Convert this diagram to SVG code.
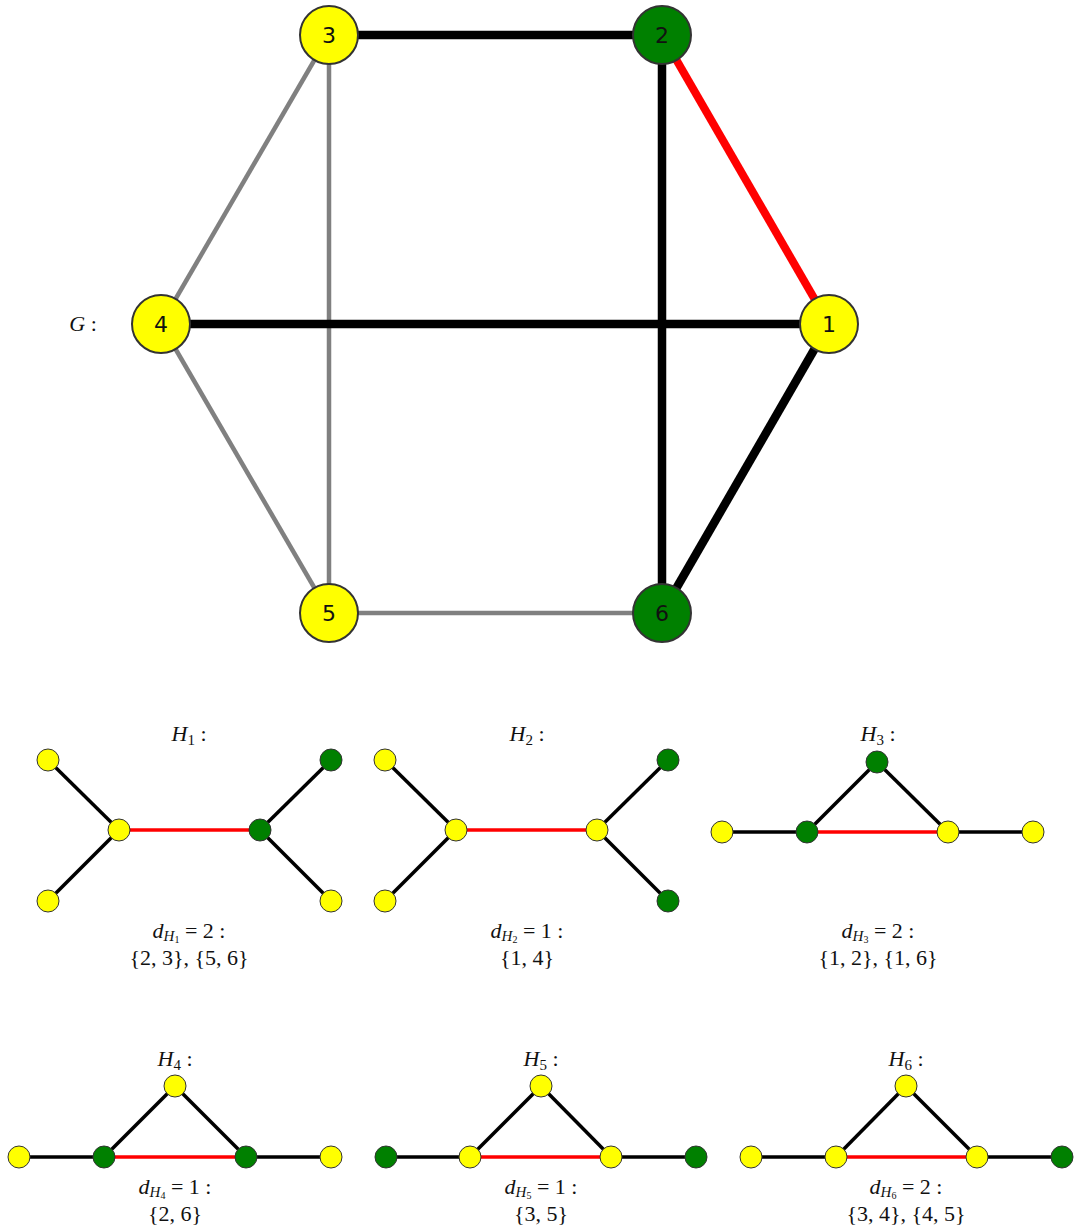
<svg xmlns="http://www.w3.org/2000/svg" width="1077" height="1229" viewBox="0 0 1077 1229">
<style>
.bk{stroke:#000;stroke-width:8.5}
.gr{stroke:#808080;stroke-width:4.5}
.rd{stroke:#f00;stroke-width:8}
.sb{stroke:#000;stroke-width:3.5}
.sr{stroke:#f00;stroke-width:3.5}
.Y{fill:#ff0}
.Gn{fill:#008000}
.big{stroke:#333;stroke-width:2}
.sm{stroke:#333;stroke-width:1}
.num{font-family:"DejaVu Sans",sans-serif;font-size:22px;text-anchor:middle;dominant-baseline:central;fill:#111}
.m{font-family:"Liberation Serif","DejaVu Serif",serif;font-size:22px;text-anchor:middle;fill:#111}
.i{font-style:italic}
</style>
<rect width="1077" height="1229" fill="#fff"/>
<g id="connectors">
<line class="gr" x1="329" y1="35" x2="161" y2="324"/>
<line class="gr" x1="329" y1="35" x2="329" y2="613"/>
<line class="gr" x1="161" y1="324" x2="329" y2="613"/>
<line class="gr" x1="329" y1="613" x2="662" y2="613"/>
<line class="bk" x1="329" y1="35" x2="662" y2="35"/>
<line class="bk" x1="662" y1="35" x2="662" y2="613"/>
<line class="bk" x1="161" y1="324" x2="829" y2="324"/>
<line class="bk" x1="829" y1="324" x2="662" y2="613"/>
<line class="rd" x1="662" y1="35" x2="829" y2="324"/>
<!-- H1 -->
<line class="sb" x1="48" y1="760" x2="119" y2="830"/>
<line class="sb" x1="48" y1="901" x2="119" y2="830"/>
<line class="sb" x1="331" y1="760" x2="260" y2="830"/>
<line class="sb" x1="331" y1="901" x2="260" y2="830"/>
<line class="sr" x1="119" y1="830" x2="260" y2="830"/>
<!-- H2 -->
<line class="sb" x1="385" y1="760" x2="456" y2="830"/>
<line class="sb" x1="385" y1="901" x2="456" y2="830"/>
<line class="sb" x1="668" y1="760" x2="597" y2="830"/>
<line class="sb" x1="668" y1="901" x2="597" y2="830"/>
<line class="sr" x1="456" y1="830" x2="597" y2="830"/>
<!-- H3 -->
<line class="sb" x1="722" y1="832" x2="807" y2="832"/>
<line class="sb" x1="948" y1="832" x2="1033" y2="832"/>
<line class="sb" x1="807" y1="832" x2="877" y2="762"/>
<line class="sb" x1="877" y1="762" x2="948" y2="832"/>
<line class="sr" x1="807" y1="832" x2="948" y2="832"/>
<!-- H4 -->
<line class="sb" x1="19" y1="1157" x2="104" y2="1157"/>
<line class="sb" x1="246" y1="1157" x2="331" y2="1157"/>
<line class="sb" x1="104" y1="1157" x2="175" y2="1086"/>
<line class="sb" x1="175" y1="1086" x2="246" y2="1157"/>
<line class="sr" x1="104" y1="1157" x2="246" y2="1157"/>
<!-- H5 -->
<line class="sb" x1="386" y1="1157" x2="470" y2="1157"/>
<line class="sb" x1="611" y1="1157" x2="696" y2="1157"/>
<line class="sb" x1="470" y1="1157" x2="541" y2="1086"/>
<line class="sb" x1="541" y1="1086" x2="611" y2="1157"/>
<line class="sr" x1="470" y1="1157" x2="611" y2="1157"/>
<!-- H6 -->
<line class="sb" x1="751" y1="1157" x2="836" y2="1157"/>
<line class="sb" x1="977" y1="1157" x2="1062" y2="1157"/>
<line class="sb" x1="836" y1="1157" x2="906" y2="1086"/>
<line class="sb" x1="906" y1="1086" x2="977" y2="1157"/>
<line class="sr" x1="836" y1="1157" x2="977" y2="1157"/>
</g>
<g id="n1"><circle class="Y big" cx="829" cy="324" r="29"/><text class="num" x="829" y="324">1</text></g>
<g id="n2"><circle class="Gn big" cx="662" cy="35" r="29"/><text class="num" x="662" y="35">2</text></g>
<g id="n3"><circle class="Y big" cx="329" cy="35" r="29"/><text class="num" x="329" y="35">3</text></g>
<g id="n4"><circle class="Y big" cx="161" cy="324" r="29"/><text class="num" x="161" y="324">4</text></g>
<g id="n5"><circle class="Y big" cx="329" cy="613" r="29"/><text class="num" x="329" y="613">5</text></g>
<g id="n6"><circle class="Gn big" cx="662" cy="613" r="29"/><text class="num" x="662" y="613">6</text></g>
<g id="labelG"><text class="m" x="83" y="331"><tspan class="i">G</tspan> :</text></g>

<g id="H1">
<circle class="Y sm" cx="48" cy="760" r="11"/><circle class="Y sm" cx="48" cy="901" r="11"/>
<circle class="Y sm" cx="119" cy="830" r="11"/><circle class="Gn sm" cx="260" cy="830" r="11"/>
<circle class="Gn sm" cx="331" cy="760" r="11"/><circle class="Y sm" cx="331" cy="901" r="11"/>
<text class="m" x="189" y="741"><tspan class="i">H</tspan><tspan font-size="15" dy="4">1</tspan><tspan dy="-4"> :</tspan></text>
<text class="m" x="189" y="938"><tspan class="i">d</tspan><tspan class="i" font-size="15" dy="3">H</tspan><tspan font-size="10" dy="2">1</tspan><tspan dy="-5"> = 2 :</tspan></text>
<text class="m" x="189" y="965">{2, 3}, {5, 6}</text>
</g>
<g id="H2">
<circle class="Y sm" cx="385" cy="760" r="11"/><circle class="Y sm" cx="385" cy="901" r="11"/>
<circle class="Y sm" cx="456" cy="830" r="11"/><circle class="Y sm" cx="597" cy="830" r="11"/>
<circle class="Gn sm" cx="668" cy="760" r="11"/><circle class="Gn sm" cx="668" cy="901" r="11"/>
<text class="m" x="527" y="741"><tspan class="i">H</tspan><tspan font-size="15" dy="4">2</tspan><tspan dy="-4"> :</tspan></text>
<text class="m" x="527" y="938"><tspan class="i">d</tspan><tspan class="i" font-size="15" dy="3">H</tspan><tspan font-size="10" dy="2">2</tspan><tspan dy="-5"> = 1 :</tspan></text>
<text class="m" x="527" y="965">{1, 4}</text>
</g>
<g id="H3">
<circle class="Y sm" cx="722" cy="832" r="11"/><circle class="Gn sm" cx="807" cy="832" r="11"/>
<circle class="Gn sm" cx="877" cy="762" r="11"/><circle class="Y sm" cx="948" cy="832" r="11"/>
<circle class="Y sm" cx="1033" cy="832" r="11"/>
<text class="m" x="878" y="741"><tspan class="i">H</tspan><tspan font-size="15" dy="4">3</tspan><tspan dy="-4"> :</tspan></text>
<text class="m" x="878" y="938"><tspan class="i">d</tspan><tspan class="i" font-size="15" dy="3">H</tspan><tspan font-size="10" dy="2">3</tspan><tspan dy="-5"> = 2 :</tspan></text>
<text class="m" x="878" y="965">{1, 2}, {1, 6}</text>
</g>
<g id="H4">
<circle class="Y sm" cx="19" cy="1157" r="11"/><circle class="Gn sm" cx="104" cy="1157" r="11"/>
<circle class="Y sm" cx="175" cy="1086" r="11"/><circle class="Gn sm" cx="246" cy="1157" r="11"/>
<circle class="Y sm" cx="331" cy="1157" r="11"/>
<text class="m" x="175" y="1066"><tspan class="i">H</tspan><tspan font-size="15" dy="4">4</tspan><tspan dy="-4"> :</tspan></text>
<text class="m" x="175" y="1194"><tspan class="i">d</tspan><tspan class="i" font-size="15" dy="3">H</tspan><tspan font-size="10" dy="2">4</tspan><tspan dy="-5"> = 1 :</tspan></text>
<text class="m" x="175" y="1221">{2, 6}</text>
</g>
<g id="H5">
<circle class="Gn sm" cx="386" cy="1157" r="11"/><circle class="Y sm" cx="470" cy="1157" r="11"/>
<circle class="Y sm" cx="541" cy="1086" r="11"/><circle class="Y sm" cx="611" cy="1157" r="11"/>
<circle class="Gn sm" cx="696" cy="1157" r="11"/>
<text class="m" x="541" y="1066"><tspan class="i">H</tspan><tspan font-size="15" dy="4">5</tspan><tspan dy="-4"> :</tspan></text>
<text class="m" x="541" y="1194"><tspan class="i">d</tspan><tspan class="i" font-size="15" dy="3">H</tspan><tspan font-size="10" dy="2">5</tspan><tspan dy="-5"> = 1 :</tspan></text>
<text class="m" x="541" y="1221">{3, 5}</text>
</g>
<g id="H6">
<circle class="Y sm" cx="751" cy="1157" r="11"/><circle class="Y sm" cx="836" cy="1157" r="11"/>
<circle class="Y sm" cx="906" cy="1086" r="11"/><circle class="Y sm" cx="977" cy="1157" r="11"/>
<circle class="Gn sm" cx="1062" cy="1157" r="11"/>
<text class="m" x="906" y="1066"><tspan class="i">H</tspan><tspan font-size="15" dy="4">6</tspan><tspan dy="-4"> :</tspan></text>
<text class="m" x="906" y="1194"><tspan class="i">d</tspan><tspan class="i" font-size="15" dy="3">H</tspan><tspan font-size="10" dy="2">6</tspan><tspan dy="-5"> = 2 :</tspan></text>
<text class="m" x="906" y="1221">{3, 4}, {4, 5}</text>
</g>
</svg>
